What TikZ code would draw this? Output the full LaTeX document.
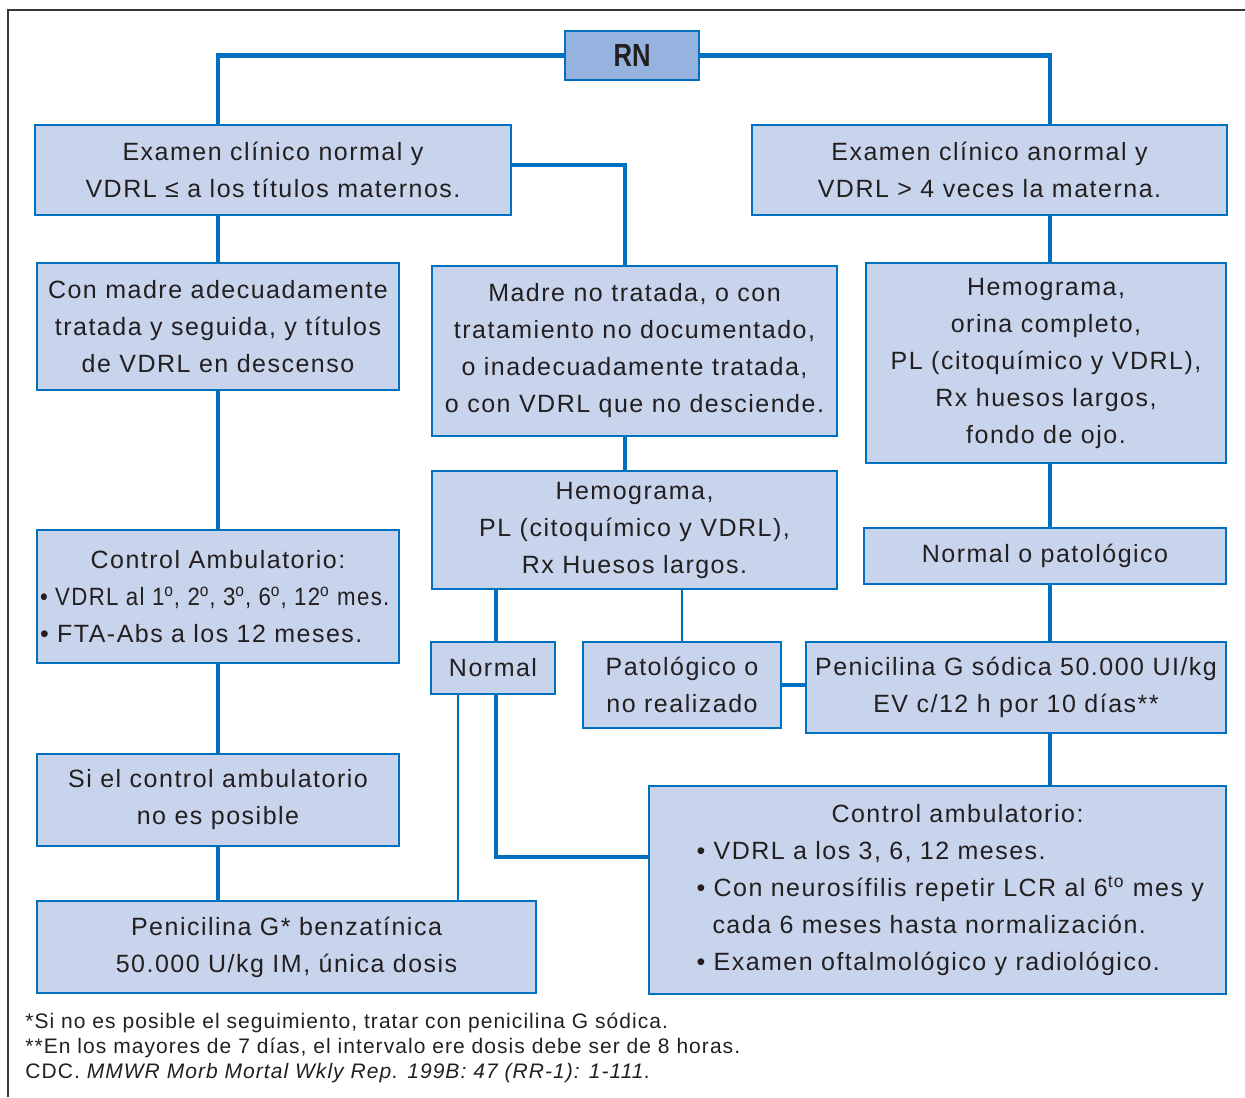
\documentclass[tikz,border=0pt]{standalone}
\usepackage{fontspec}
\setmainfont{Liberation Sans}[LetterSpace=6]
\newfontfamily\notafont{Liberation Sans}[LetterSpace=5]
\newfontfamily\rnfont{Liberation Sans}[FakeStretch=0.8]
\usepackage{tikz}
\definecolor{azul}{HTML}{0070C0}
\definecolor{relleno}{HTML}{C8D4EC}
\definecolor{rnfill}{HTML}{95B3DE}
\definecolor{tinta}{HTML}{231F20}

\begin{document}
\begin{tikzpicture}[x=0.5pt, y=-0.5pt,
  caja/.style={draw=azul, line width=1.2pt, fill=relleno, align=center, inner sep=1.5pt, text=tinta, font=\fontsize{12.5}{18.5}\selectfont},
  linea/.style={draw=azul, line width=2.3pt},
  fina/.style={draw=azul, line width=1.2pt}]
\useasboundingbox (0,0) rectangle (1245,1097);
\draw[tinta!90, line width=1.2pt] (8,1097) -- (8,10) -- (1245,10);
\coordinate (colL) at (218,0);
\coordinate (colM) at (625,0);
\coordinate (colR) at (1050,0);
\coordinate (colN) at (496,0);
\coordinate (colT) at (458,0);
\coordinate (rowA) at (0,165);
\coordinate (rowB) at (0,857);
\node[caja, fill=rnfill, minimum width=67pt, minimum height=24.5pt, font=\rnfont\bfseries\fontsize{16}{18}\selectfont] (rn) at (632,55.5) {RN};
\node[caja, minimum width=238pt, minimum height=45pt] (exN) at (273,170) {Examen clínico normal y\\VDRL ≤ a los títulos maternos.};
\node[caja, minimum width=237.5pt, minimum height=45pt] (exA) at (989.5,170) {Examen clínico anormal y\\VDRL > 4 veces la materna.};
\node[caja, minimum width=181pt, minimum height=63.5pt] (madreOk) at (218,326.5) {Con madre adecuadamente\\tratada y seguida, y títulos\\de VDRL en descenso};
\node[caja, minimum width=202.5pt, minimum height=85pt] (madreNo) at (634.5,351) {Madre no tratada, o con\\tratamiento no documentado,\\o inadecuadamente tratada,\\o con VDRL que no desciende.};
\node[caja, minimum width=180pt, minimum height=100pt] (hemoA) at (1046,363) {Hemograma,\\orina completo,\\PL (citoquímico y VDRL),\\Rx huesos largos,\\fondo de ojo.};
\node[caja, minimum width=202.5pt, minimum height=59pt] (hemoB) at (634.5,530) {Hemograma,\\PL (citoquímico y VDRL),\\Rx Huesos largos.};
\node[caja, minimum width=181pt, minimum height=66.5pt, text width=178pt, align=left] (ctrlA) at (218,596.5) {\makebox[\linewidth]{Control Ambulatorio:}\\\scalebox{0.89}[1]{• VDRL al 1\textsuperscript{o}, 2\textsuperscript{o}, 3\textsuperscript{o}, 6\textsuperscript{o}, 12\textsuperscript{o} mes.}\\• FTA-Abs a los 12 meses.};
\node[caja, minimum width=181pt, minimum height=28pt] (nop) at (1045,556) {Normal o patológico};
\node[caja, minimum width=62pt, minimum height=26pt] (normal) at (493,668) {Normal};
\node[caja, minimum width=99pt, minimum height=43pt] (patol) at (682,685) {Patológico o\\no realizado};
\node[caja, minimum width=210pt, minimum height=45.5pt] (penS) at (1016,687.5) {Penicilina G sódica 50.000 UI/kg\\EV c/12 h por 10 días**};
\node[caja, minimum width=181pt, minimum height=46pt] (siCtrl) at (218,800) {Si el control ambulatorio\\no es posible};
\node[caja, minimum width=288.5pt, minimum height=104pt, text width=285pt, align=left] (ctrlB) at (937.5,890) {\makebox[\linewidth]{\hspace{20pt}Control ambulatorio:}\\\hspace*{22pt}• VDRL a los 3, 6, 12 meses.\\\hspace*{22pt}• Con neurosífilis repetir LCR al 6\textsuperscript{to} mes y\\\hspace*{30pt}cada 6 meses hasta normalización.\\\hspace*{22pt}• Examen oftalmológico y radiológico.};
\node[caja, minimum width=249.5pt, minimum height=46pt] (penB) at (286.5,947) {Penicilina G* benzatínica\\50.000 U/kg IM, única dosis};
\node[anchor=west, align=left, inner sep=0pt, text=tinta, font=\notafont\fontsize{10.5}{12.5}\selectfont] (notas) at (25,1048) {*Si no es posible el seguimiento, tratar con penicilina G sódica.\\**En los mayores de 7 días, el intervalo ere dosis debe ser de 8 horas.\\CDC. \textit{MMWR Morb Mortal Wkly Rep. 199B: 47 (RR-1): 1-111.}};
\draw[linea] (rn.west) -| (exN.north -| colL);
\draw[linea] (rn.east) -| (exA.north -| colR);
\draw[linea] (exN.east |- rowA) -| (madreNo.north -| colM);
\draw[linea] (exN.south -| colL) -- (madreOk.north -| colL);
\draw[linea] (madreOk.south -| colL) -- (ctrlA.north -| colL);
\draw[linea] (ctrlA.south -| colL) -- (siCtrl.north -| colL);
\draw[linea] (siCtrl.south -| colL) -- (penB.north -| colL);
\draw[linea] (madreNo.south -| colM) -- (hemoB.north -| colM);
\draw[linea] (exA.south -| colR) -- (hemoA.north -| colR);
\draw[linea] (hemoA.south -| colR) -- (nop.north -| colR);
\draw[linea] (nop.south -| colR) -- (penS.north -| colR);
\draw[linea] (penS.south -| colR) -- (ctrlB.north -| colR);
\draw[linea] (patol.east) -- (patol.east -| penS.west);
\draw[linea] (hemoB.south -| colN) -- (normal.north -| colN);
\draw[linea] (normal.south -| colN) |- (ctrlB.west |- rowB);
\draw[fina] (hemoB.south -| patol.north) -- (patol.north);
\draw[fina] (normal.south -| colT) -- (penB.north -| colT);
\end{tikzpicture}
\end{document}
